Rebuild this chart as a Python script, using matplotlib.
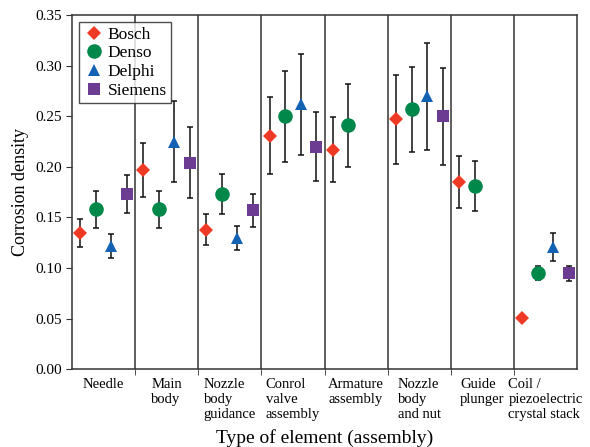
import numpy as np
import matplotlib
matplotlib.use("Agg")
import matplotlib.pyplot as plt

plt.rcParams["font.family"] = ["Liberation Serif", "DejaVu Serif"]

# Data
categories = ["Needle", "Main\nbody", "Nozzle\nbody\nguidance", "Conrol\nvalve\nassembly",
              "Armature\nassembly", "Nozzle\nbody\nand nut", "Guide\nplunger",
              "Coil /\npiezoelectric\ncrystal stack"]

bosch = [0.135, 0.197, 0.138, 0.231, 0.217, 0.247, 0.185, 0.051]
bosch_err = [0.014, 0.027, 0.015, 0.038, 0.032, 0.044, 0.026, 0.0]
denso = [0.158, 0.158, 0.173, 0.250, 0.241, 0.257, 0.181, 0.095]
denso_err = [0.018, 0.018, 0.020, 0.045, 0.041, 0.042, 0.025, 0.007]
# Delphi and Siemens have no values for some elements
delphi = [0.122, 0.225, 0.130, 0.262, np.nan, 0.270, np.nan, 0.121]
delphi_err = [0.012, 0.040, 0.012, 0.050, np.nan, 0.053, np.nan, 0.014]
siemens = [0.173, 0.204, 0.157, 0.220, np.nan, 0.250, np.nan, 0.095]
siemens_err = [0.019, 0.035, 0.016, 0.034, np.nan, 0.048, np.nan, 0.0075]

series = [
    ("Bosch", bosch, bosch_err, "D", "#ee3a24", 7.5),
    ("Denso", denso, denso_err, "o", "#00884a", 10.5),
    ("Delphi", delphi, delphi_err, "^", "#1462b4", 9),
    ("Siemens", siemens, siemens_err, "s", "#6c3b92", 9),
]
offsets = [-0.37, -0.12, 0.12, 0.37]

fig = plt.figure(figsize=(5.9, 4.47), dpi=100)
ax = fig.add_axes([0.122, 0.174, 0.856, 0.792])

x = np.arange(len(categories))
for (name, vals, errs, mk, col, ms), off in zip(series, offsets):
    vals = np.array(vals, dtype=float)
    errs = np.array(errs, dtype=float)
    ax.errorbar(x + off, vals, yerr=errs, fmt="none", ecolor="#111111",
                elinewidth=1.1, capsize=2.5, capthick=1.1, zorder=2)
    ax.plot(x + off, vals, linestyle="none", marker=mk, color=col,
            markersize=ms, markeredgewidth=0, label=name, zorder=3)

# separator lines between elements
for b in np.arange(0.5, len(categories) - 1, 1.0):
    ax.axvline(b, color="#333333", linewidth=1.1, zorder=1)

ax.set_xlim(-0.5, len(categories) - 0.5)
ax.set_ylim(0, 0.35)
ax.set_yticks(np.arange(0, 0.351, 0.05))
ax.set_yticklabels(["%.2f" % v for v in np.arange(0, 0.351, 0.05)], fontsize=11)

ax.set_xticks(x)
ax.set_xticklabels(categories, fontsize=10.5, multialignment="left", va="top")
ax.tick_params(axis="x", which="major", length=0, pad=6)
ax.set_xticks(np.arange(0.5, len(categories) - 1, 1.0), minor=True)
ax.tick_params(axis="x", which="minor", length=4, direction="out", color="#333333")
ax.tick_params(axis="y", length=4, direction="out", color="#333333")

for sp in ax.spines.values():
    sp.set_color("#333333")
    sp.set_linewidth(1.1)

ax.set_ylabel("Corrosion density", fontsize=13)
ax.set_xlabel("Type of element (assembly)", fontsize=14, labelpad=6)

leg = ax.legend(loc="upper left", fontsize=12.5, frameon=True, fancybox=False,
                borderpad=0.25, labelspacing=0.15, handletextpad=0.2,
                handlelength=1.2, borderaxespad=0.4)
leg.get_frame().set_edgecolor("#222222")
leg.get_frame().set_linewidth(1.0)

fig.savefig("out.png", dpi=100)
